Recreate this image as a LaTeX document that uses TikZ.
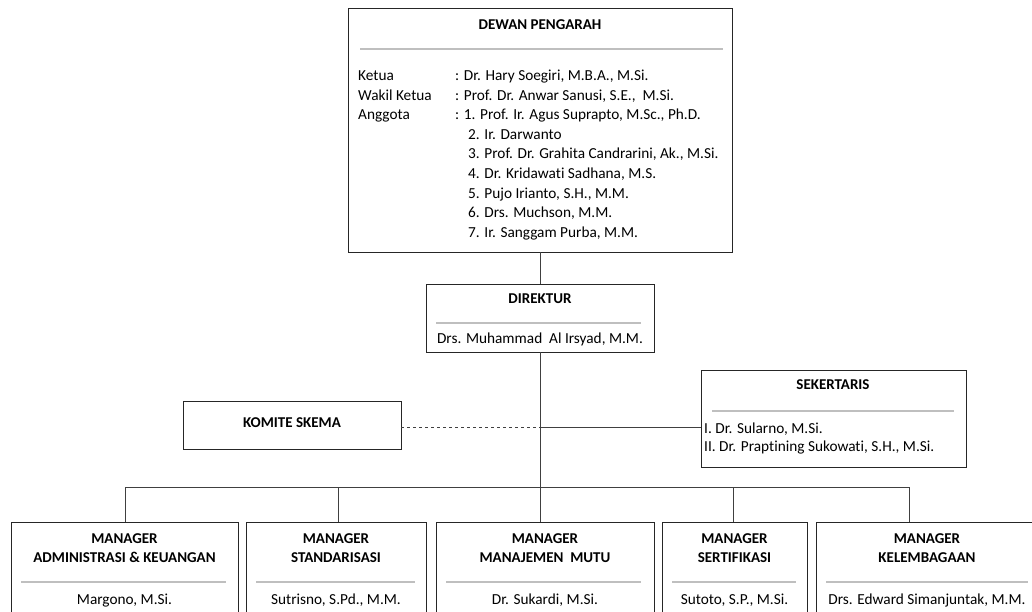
\documentclass[tikz,border=0pt]{standalone}
\usepackage{fontspec}
\setmainfont[Ligatures=NoCommon]{Carlito}
\definecolor{boxline}{HTML}{262626}
\definecolor{connline}{HTML}{404040}
\definecolor{sepline}{HTML}{BFBFBF}
\tikzset{
  box/.style={draw=boxline, line width=0.9pt, rectangle, inner sep=0pt},
  sepl/.style={draw=sepline, line width=1.4pt},
  conn/.style={draw=connline, line width=0.9pt},
  ttl/.style={font=\bfseries\fontsize{15}{17}\selectfont, inner sep=0pt, text height=10pt, text depth=3pt},
  txt/.style={font=\fontsize{15.3}{17}\selectfont, inner sep=0pt, text height=10pt, text depth=3pt},
  lft/.style={txt, anchor=west},
}
\begin{document}
\begin{tikzpicture}[x=1pt,y=-1pt]
\useasboundingbox (0,0) rectangle (1032,612);
\clip (0,0) rectangle (1032,612);
\fill[white] (0,0) rectangle (1032,612);

% DEWAN PENGARAH
\node[box, minimum width=384pt, minimum height=244pt] (dewan) at (540,130) {};
\node[ttl] (dewant) at (540,26) {DEWAN PENGARAH};
\draw[sepl] (360,49) -- (723,49);
\node[lft] (k1) at (358,77) {Ketua};
\node[lft] (k2) at (358,96.6) {Wakil Ketua};
\node[lft] (k3) at (358,116.2) {Anggota};
\node[lft] (v1) at (455,77) {: Dr. Hary Soegiri, M.B.A., M.Si.};
\node[lft] (v2) at (455,96.6) {: Prof. Dr. Anwar Sanusi, S.E., \ M.Si.};
\node[lft] (v3) at (455,116.2) {: 1. Prof. Ir. Agus Suprapto, M.Sc., Ph.D.};
\node[lft] (a2) at (468,135.8) {2. Ir. Darwanto};
\node[lft] (a3) at (468,155.4) {3. Prof. Dr. Grahita Candrarini, Ak., M.Si.};
\node[lft] (a4) at (468,175) {4. Dr. Kridawati Sadhana, M.S.};
\node[lft] (a5) at (468,194.6) {5. Pujo Irianto, S.H., M.M.};
\node[lft] (a6) at (468,214.2) {6. Drs. Muchson, M.M.};
\node[lft] (a7) at (468,233.8) {7. Ir. Sanggam Purba, M.M.};

% DIREKTUR
\node[box, minimum width=228pt, minimum height=68pt] (dir) at (540,318) {};
\node[ttl] (dirt) at (540,300) {DIREKTUR};
\draw[sepl] (436,323) -- (641,323);
\node[txt] (dirn) at (540,340) {Drs. Muhammad \ Al Irsyad, M.M.};

% KOMITE SKEMA
\node[box, minimum width=218pt, minimum height=48pt] (kom) at (292,425) {};
\node[ttl] (komt) at (292,424) {KOMITE SKEMA};

% SEKERTARIS
\node[box, minimum width=265pt, minimum height=97pt] (sek) at (833.5,418.5) {};
\node[ttl] (sekt) at (833,386) {SEKERTARIS};
\draw[sepl] (712,411) -- (954,411);
\node[lft] (s1) at (704,430) {I. Dr. Sularno, M.Si.};
\node[lft] (s2) at (704,448) {II. Dr. Praptining Sukowati, S.H., M.Si.};

% MANAGERS
\node[box, minimum width=227pt, minimum height=118pt] (m1) at (124.5,581) {};
\node[box, minimum width=180pt, minimum height=118pt] (m2) at (336,581) {};
\node[box, minimum width=218pt, minimum height=118pt] (m3) at (545,581) {};
\node[box, minimum width=145pt, minimum height=118pt] (m4) at (734.5,581) {};
\node[box, minimum width=222pt, minimum height=118pt] (m5) at (927,581) {};

\node[ttl] (m1a) at (124.5,540) {MANAGER};
\node[ttl] (m1b) at (124.5,559) {ADMINISTRASI \& KEUANGAN};
\draw[sepl] (21,582) -- (226,582);
\node[txt] (m1n) at (124.5,601) {Margono, M.Si.};

\node[ttl] (m2a) at (336,540) {MANAGER};
\node[ttl] (m2b) at (336,559) {STANDARISASI};
\draw[sepl] (256,582) -- (415,582);
\node[txt] (m2n) at (336,601) {Sutrisno, S.Pd., M.M.};

\node[ttl] (m3a) at (545,540) {MANAGER};
\node[ttl] (m3b) at (545,559) {MANAJEMEN \ MUTU};
\draw[sepl] (446,582) -- (641,582);
\node[txt] (m3n) at (545,601) {Dr. Sukardi, M.Si.};

\node[ttl] (m4a) at (734.5,540) {MANAGER};
\node[ttl] (m4b) at (734.5,559) {SERTIFIKASI};
\draw[sepl] (672,582) -- (796,582);
\node[txt] (m4n) at (734.5,601) {Sutoto, S.P., M.Si.};

\node[ttl] (m5a) at (927,540) {MANAGER};
\node[ttl] (m5b) at (927,559) {KELEMBAGAAN};
\draw[sepl] (826,582) -- (1028,582);
\node[txt] (m5n) at (927,601) {Drs. Edward Simanjuntak, M.M.};

% CONNECTORS
\coordinate (mid) at (540,427);
\coordinate (bar) at (540,487);
\coordinate (barL) at (125,487);
\coordinate (barR) at (909,487);
\draw[conn] (dewan.south) -- (dir.north);
\draw[conn] (dir.south) -- (bar);
\draw[conn, dashed] (kom.east |- mid) -- (mid);
\draw[conn] (mid) -- (sek.west |- mid);
\draw[conn] (barL) -- (barR);
\draw[conn] (barL) -- (barL |- m1.north);
\draw[conn] (338,487) -- (338,522);
\draw[conn] (bar) -- (bar |- m3.north);
\draw[conn] (733,487) -- (733,522);
\draw[conn] (barR) -- (barR |- m5.north);
\end{tikzpicture}
\end{document}
